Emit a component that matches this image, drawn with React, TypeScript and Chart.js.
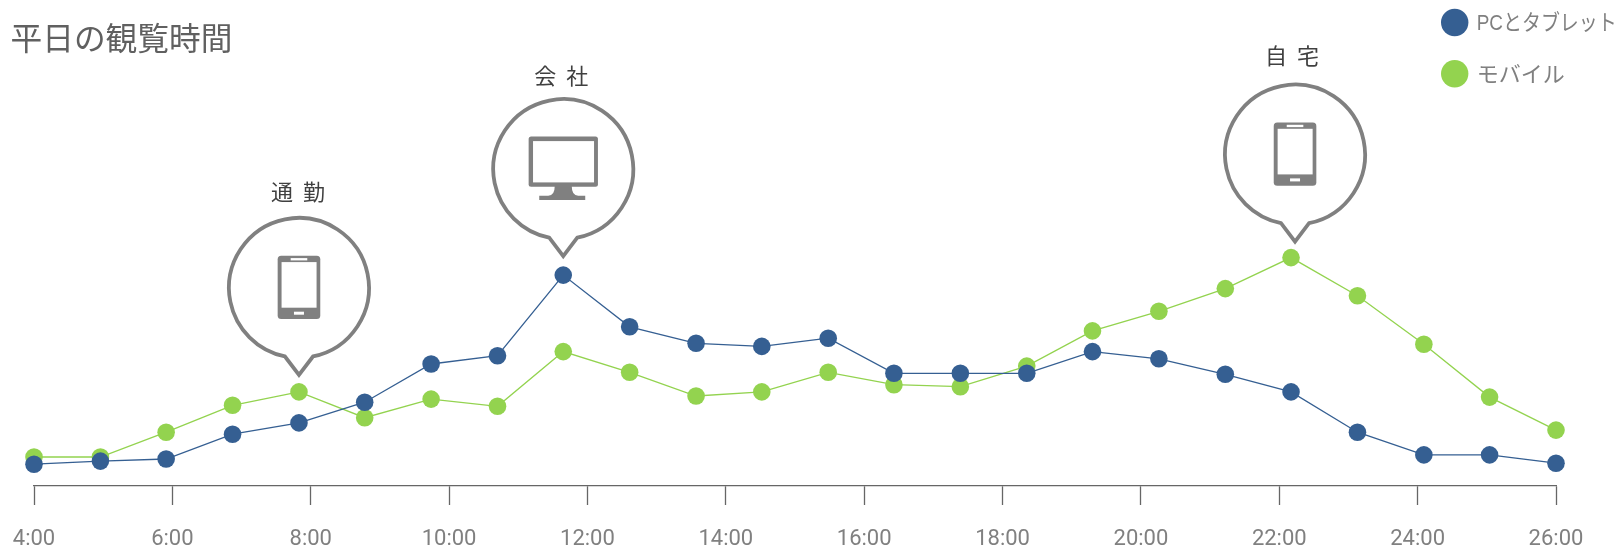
import React, { useEffect, useRef } from "react";
import { Chart, registerables } from "chart.js";

Chart.register(...registerables);

const TITLE = "平日の観覧時間";
const SERIES_PC = "PCとタブレット";
const SERIES_MOBILE = "モバイル";
const times = [4, 4.96, 5.91, 6.87, 7.83, 8.78, 9.74, 10.7, 11.65, 12.61, 13.57, 14.52, 15.48, 16.43, 17.39, 18.35, 19.3, 20.26, 21.22, 22.17, 23.13, 24.09, 25.04, 26];
const pcValues = [21.8, 24.9, 27, 51.8, 63.1, 83.8, 122, 130.3, 210.9, 159.2, 142.7, 139.6, 147.8, 112.7, 112.7, 112.7, 134.4, 127.2, 111.7, 94.1, 53.8, 31.1, 31.1, 22.8];
const mobileValues = [29, 29, 53.8, 80.7, 94.1, 68.3, 86.9, 79.7, 134.4, 113.7, 90, 94.1, 113.7, 101.3, 99.3, 119.9, 155.1, 174.7, 197.4, 228.4, 190.2, 141.7, 88.9, 55.9];
const calloutLabels = ["通 勤", "会 社", "自 宅"];
const calloutIcons = ["phone", "monitor", "phone"];
const calloutDataset = [1, 0, 1];
const calloutIndex = [4, 8, 19];

const BLUE = "#355F92";
const GREEN = "#93D34F";
const GRAY = "#808080";
const DARK = "#404040";
const JP = '"Liberation Sans", "Noto Sans CJK JP", sans-serif';

const calloutLayout = [
  { dx: 0, dy: -104, labelDy: -94, labelDx: 0 },
  { dx: 0, dy: -106, labelDy: -91, labelDx: -1 },
  { dx: 4, dy: -103, labelDy: -97, labelDx: -2 },
];
const legendLayout = [
  { cy: 22.5, textY: 24, maxWidth: 140 },
  { cy: 73.7, textY: 76, maxWidth: 88 },
];

function rr(ctx: CanvasRenderingContext2D, x: number, y: number, w: number, h: number, r: number) {
  ctx.beginPath();
  ctx.roundRect(x, y, w, h, r);
}

function drawPhone(ctx: CanvasRenderingContext2D, cx: number, cy: number) {
  ctx.fillStyle = GRAY;
  rr(ctx, cx - 21.3, cy - 31.7, 42.6, 63.4, 3.5);
  ctx.fill();
  ctx.fillStyle = "#fff";
  ctx.fillRect(cx - 17.4, cy - 25.3, 35, 45.6);
  ctx.fillRect(cx - 8.3, cy - 29.3, 16.6, 2.3);
  ctx.fillRect(cx - 5, cy + 24.3, 10, 3);
}

function drawMonitor(ctx: CanvasRenderingContext2D, cx: number, cy: number) {
  ctx.fillStyle = GRAY;
  rr(ctx, cx - 34.6, cy - 32.7, 69.3, 50.4, 2.5);
  ctx.fill();
  ctx.fillStyle = "#fff";
  ctx.fillRect(cx - 30.2, cy - 28, 61, 41.3);
  ctx.fillStyle = GRAY;
  ctx.beginPath();
  ctx.moveTo(cx - 8.5, cy + 17);
  ctx.lineTo(cx + 8.5, cy + 17);
  ctx.quadraticCurveTo(cx + 8.5, cy + 26.7, cx + 15, cy + 26.7);
  ctx.lineTo(cx + 22, cy + 26.7);
  ctx.lineTo(cx + 22, cy + 31);
  ctx.lineTo(cx - 24, cy + 31);
  ctx.lineTo(cx - 24, cy + 26.7);
  ctx.lineTo(cx - 15, cy + 26.7);
  ctx.quadraticCurveTo(cx - 8.5, cy + 26.7, cx - 8.5, cy + 17);
  ctx.closePath();
  ctx.fill();
}

const calloutPlugin = {
  id: "callouts",
  afterLayout(chart: any) {
    if (chart.titleBlock) {
      chart.titleBlock.left = 10.5;
    }
  },
  afterDatasetsDraw(chart: any) {
    const ctx: CanvasRenderingContext2D = chart.ctx;
    calloutLabels.forEach((label, i) => {
      const el = chart.getDatasetMeta(calloutDataset[i]).data[calloutIndex[i]];
      const lay = calloutLayout[i];
      const cx = el.x + lay.dx;
      const cy = el.y + lay.dy;
      const r = 70;
      const a = Math.asin(14 / r);
      ctx.save();
      ctx.beginPath();
      ctx.arc(cx, cy, r, Math.PI / 2 - a, Math.PI / 2 + a, true);
      ctx.lineTo(cx, cy + 87);
      ctx.closePath();
      ctx.fillStyle = "#fff";
      ctx.fill();
      ctx.strokeStyle = GRAY;
      ctx.lineWidth = 3.8;
      ctx.lineJoin = "miter";
      ctx.stroke();
      if (calloutIcons[i] === "phone") drawPhone(ctx, cx, cy - 0.5);
      else drawMonitor(ctx, cx, cy);
      ctx.fillStyle = DARK;
      ctx.font = `22px ${JP}`;
      (ctx as any).letterSpacing = "2px";
      ctx.textAlign = "center";
      ctx.textBaseline = "middle";
      ctx.fillText(label, cx + lay.labelDx, cy + lay.labelDy);
      ctx.restore();
    });
    // Legend: per-item text widths differ in the reference, so it is drawn from the datasets here.
    chart.data.datasets.forEach((ds: any, i: number) => {
      const lay = legendLayout[i];
      ctx.save();
      ctx.fillStyle = ds.backgroundColor;
      ctx.beginPath();
      ctx.arc(1454.7, lay.cy, 13.7, 0, Math.PI * 2);
      ctx.fill();
      ctx.fillStyle = GRAY;
      ctx.font = `22px ${JP}`;
      ctx.textAlign = "left";
      ctx.textBaseline = "middle";
      ctx.fillText(ds.label, 1476.7, lay.textY, lay.maxWidth);
      ctx.restore();
    });
  },
};

export default function App() {
  const ref = useRef<HTMLCanvasElement>(null);
  useEffect(() => {
    const chart = new Chart(ref.current!, {
      type: "line",
      plugins: [calloutPlugin],
      data: {
        datasets: [
          {
            label: SERIES_PC,
            data: times.map((x, i) => ({ x, y: pcValues[i] })),
            borderColor: BLUE,
            backgroundColor: BLUE,
            pointBackgroundColor: BLUE,
            pointBorderColor: BLUE,
            borderWidth: 1.3,
            pointRadius: 8.8,
            pointBorderWidth: 0,
            pointStyle: "circle",
            tension: 0,
            clip: false,
          },
          {
            label: SERIES_MOBILE,
            data: times.map((x, i) => ({ x, y: mobileValues[i] })),
            borderColor: GREEN,
            backgroundColor: GREEN,
            pointBackgroundColor: GREEN,
            pointBorderColor: GREEN,
            borderWidth: 1.3,
            pointRadius: 8.8,
            pointBorderWidth: 0,
            pointStyle: "circle",
            tension: 0,
            clip: false,
          },
        ],
      },
      options: {
        responsive: false,
        animation: false,
        layout: { padding: { left: 34, right: 64, top: 0, bottom: 0 } },
        plugins: {
          tooltip: { enabled: false },
          legend: { display: false },
          title: {
            display: true,
            text: TITLE,
            align: "start",
            color: "#606060",
            font: { family: JP, size: 31.7, weight: "normal", lineHeight: 1.2 },
            padding: { top: 22.4, bottom: 0 },
          },
        },
        scales: {
          x: {
            type: "linear",
            min: 4,
            max: 26,
            afterFit: (s: any) => {
              s.height = 64;
              s.paddingLeft = 0;
              s.paddingRight = 0;
            },
            border: { display: true, color: "#666", width: 1.3 },
            grid: { drawOnChartArea: false, drawTicks: true, tickLength: 19, tickColor: "#666", tickWidth: 1.3 },
            ticks: {
              stepSize: 2,
              maxRotation: 0,
              autoSkip: false,
              padding: 21,
              color: GRAY,
              font: { family: "Roboto", size: 22, lineHeight: 1.2 },
              callback: (v: any) => `${v}:00`,
            },
          },
          y: { display: false, min: 0, max: 425.56 },
        },
      },
    } as any);
    return () => chart.destroy();
  }, []);
  return (
    <div style={{ position: "fixed", left: 0, top: 0, width: 1620, height: 550, background: "#fff" }}>
      <canvas ref={ref} width={1620} height={550} style={{ display: "block" }} />
    </div>
  );
}
